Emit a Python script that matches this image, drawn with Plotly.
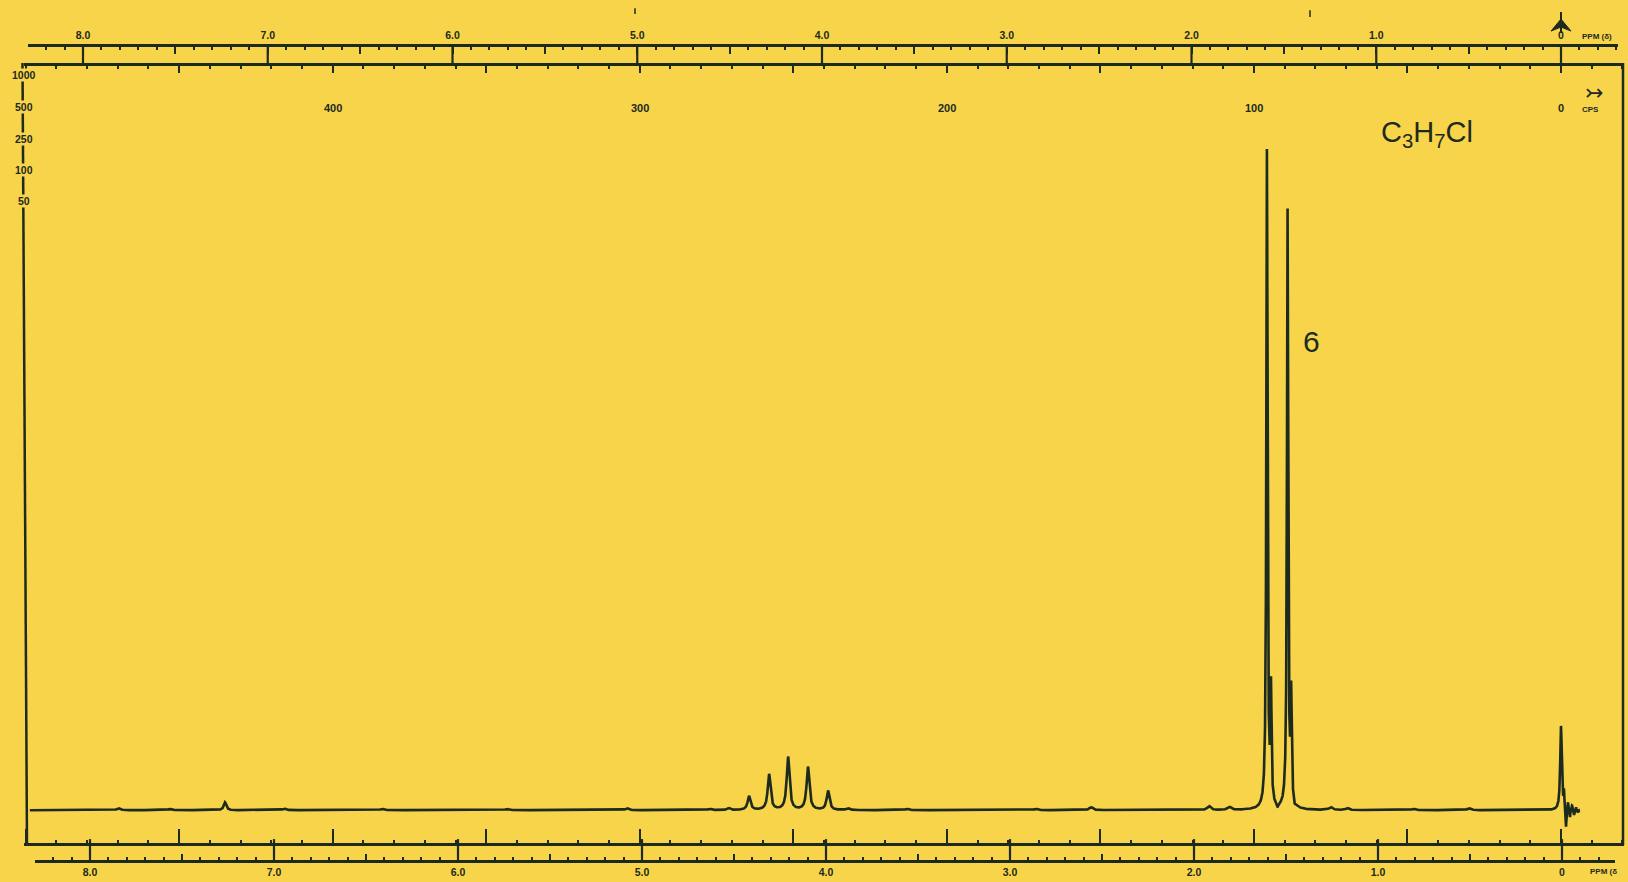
import numpy as np
import plotly.graph_objects as go

# ---------------- data ----------------
# chemical shift in ppm, peak height (relative units, tallest = 100), line width (ppm, FWHM)
doublet_ppm = [1.596, 1.484]
doublet_height = [99.4, 90.2]
doublet_fwhm = [0.0078, 0.0078]

doublet_ring_ppm = [1.574, 1.5385, 1.4645, 1.446]
doublet_ring_height = [17.0, -0.6, 16.0, -0.5]
doublet_ring_fwhm = [0.007, 0.012, 0.007, 0.010]

septet_ppm = [4.516, 4.407, 4.298, 4.195, 4.087, 3.978, 3.870]
septet_height = [0.3, 2.1, 5.4, 8.0, 6.5, 2.9, 0.3]
septet_fwhm = [0.018, 0.018, 0.018, 0.018, 0.018, 0.018, 0.018]

tms_ppm = [0.000, -0.0163, -0.0272, -0.038, -0.049, -0.060, -0.071, -0.082, -0.092]
tms_height = [12.7, 2.3, -3.0, 1.1, -1.2, 0.7, -0.8, 0.4, -0.4]
tms_fwhm = [0.010, 0.004, 0.004, 0.004, 0.004, 0.004, 0.004, 0.004, 0.004]

minor_ppm = [7.251, 7.83, 7.55, 6.93, 6.40, 5.72, 5.07, 4.62, 3.55, 2.85, 2.55, 1.91, 1.80, 1.25, 1.16, 0.80, 0.50]
minor_height = [1.2, 0.3, 0.2, 0.25, 0.2, 0.2, 0.3, 0.2, 0.2, 0.2, 0.45, 0.6, 0.45, 0.45, 0.3, 0.2, 0.3]
minor_fwhm = [0.016, 0.022, 0.022, 0.022, 0.022, 0.022, 0.022, 0.022, 0.022, 0.022, 0.022, 0.022, 0.022, 0.022, 0.022, 0.022, 0.022]

sweep_start_ppm = 8.31
sweep_end_ppm = -0.103

ppm_tick_labels = ["8.0", "7.0", "6.0", "5.0", "4.0", "3.0", "2.0", "1.0", "0"]
cps_label_values = [400, 300, 200, 100, 0]
cps_labels = ["400", "300", "200", "100", "0"]
amplitude_labels = ["1000", "500", "250", "100", "50"]
formula_label = "C<sub>3</sub>H<sub>7</sub>Cl"
integral_label = "6"
spectrometer_mhz = 60.0

# ---------------- spectrum line from the peak list ----------------
centers = np.array(doublet_ppm + doublet_ring_ppm + septet_ppm + tms_ppm + minor_ppm)
heights = np.array(doublet_height + doublet_ring_height + septet_height + tms_height + minor_height)
widths = np.array(doublet_fwhm + doublet_ring_fwhm + septet_fwhm + tms_fwhm + minor_fwhm)

shift = np.linspace(sweep_start_ppm, sweep_end_ppm, 24000)
signal = np.zeros_like(shift)
for c, h, w in zip(centers, heights, widths):
    signal += h / (1.0 + ((shift - c) / (w / 2.0)) ** 2)

# ---------------- layout geometry (pixels of the 1628x882 page) ----------------
W, H = 1628, 882
L, R, T, B = 24, 1624, 45, 864
PW, PH = R - L, B - T
INK = "#1d2a1e"
PAPER = "#f7d44a"


def py(Y):
    return (B - Y) / PH


def pxp(X):
    return (X - L) / PW


PPM_PX = 184.25   # pixels per ppm on the chart
ZERO_X = 1561     # pixel of 0 ppm
UNIT_PX = 6.65    # pixels per intensity unit
BASE_Y = 813      # pixel of the baseline


def ppm_at(X, zero=ZERO_X, scale=PPM_PX):
    return (zero - X) / scale


x_range = [ppm_at(L), ppm_at(R)]
y_range = [(BASE_Y - B) / UNIT_PX, (BASE_Y - T) / UNIT_PX]

fig = go.Figure()
fig.add_trace(go.Scatter(x=shift, y=signal, mode="lines",
                         line=dict(color=INK, width=2.6),
                         showlegend=False, hoverinfo="skip"))
for ax in ["x2", "x3", "x4", "x5"]:
    fig.add_trace(go.Scatter(x=[], y=[], xaxis=ax, yaxis="y", showlegend=False, hoverinfo="skip"))

ppm_major = [k * 0.5 for k in range(17)]
ppm_text = []
for v in ppm_major:
    if abs(v - round(v)) < 1e-9:
        ppm_text.append(ppm_tick_labels[8 - int(round(v))])
    else:
        ppm_text.append(" ")

tick_font = dict(family="Liberation Sans", size=10.5, color=INK, weight="bold")


def ppm_axis(domain, rng, position, side, major_len):
    return dict(domain=domain, range=rng, anchor="free", position=position, side=side,
                showline=True, linecolor=INK, linewidth=2.5,
                ticks="inside", ticklen=major_len, tickwidth=2, tickcolor=INK,
                tickmode="array", tickvals=ppm_major, ticktext=ppm_text,
                tickfont=tick_font, ticklabelstandoff=1,
                minor=dict(ticks="inside", ticklen=3, tickwidth=1.5, tickcolor=INK,
                           tickmode="linear", tick0=0, dtick=0.1, showgrid=False),
                showgrid=False, zeroline=False)


def cps_axis(position, side, major_len):
    return dict(domain=[0, 1], range=[x_range[0] * spectrometer_mhz, x_range[1] * spectrometer_mhz],
                anchor="free", position=position, side=side,
                showline=True, linecolor=INK, linewidth=2.5,
                ticks="inside", ticklen=major_len, tickwidth=2, tickcolor=INK,
                tickmode="linear", tick0=0, dtick=50, showticklabels=False,
                minor=dict(ticks="inside", ticklen=3, tickwidth=1.5, tickcolor=INK,
                           tickmode="linear", tick0=0, dtick=10, showgrid=False),
                showgrid=False, zeroline=False)


# top ppm scale (own calibration of the printed chart)
TOP_ZERO, TOP_SCALE = 1561, 184.75
top_dom = [pxp(28), pxp(1618)]
top_rng = [ppm_at(28, TOP_ZERO, TOP_SCALE), ppm_at(1618, TOP_ZERO, TOP_SCALE)]
# bottom ppm scale
BOT_ZERO, BOT_SCALE = 1562, 184.0
bot_dom = [pxp(35), pxp(1615)]
bot_rng = [ppm_at(35, BOT_ZERO, BOT_SCALE), ppm_at(1615, BOT_ZERO, BOT_SCALE)]

fig.update_layout(
    width=W, height=H,
    margin=dict(l=L, r=W - R, t=T, b=H - B, pad=0),
    paper_bgcolor=PAPER, plot_bgcolor="rgba(0,0,0,0)",
    xaxis=dict(domain=[0, 1], range=x_range, visible=False, anchor="y"),
    yaxis=dict(domain=[0, 1], range=y_range, visible=False),
    xaxis2=ppm_axis(top_dom, top_rng, 1.0, "top", 7),
    xaxis3=cps_axis(py(64), "top", 7),
    xaxis4=cps_axis(py(847), "bottom", 14),
    xaxis5=ppm_axis(bot_dom, bot_rng, 0.0, "bottom", 6),
    showlegend=False,
)

shapes = []
# integer-ppm connectors between the double scale lines
for k in range(9):
    shapes.append(dict(type="line", xref="x2", yref="paper", x0=k, x1=k, y0=py(45), y1=py(66),
                       line=dict(color=INK, width=2.2)))
    shapes.append(dict(type="line", xref="x5", yref="paper", x0=k, x1=k, y0=py(842), y1=py(865),
                       line=dict(color=INK, width=2.2)))
# side frame lines
shapes.append(dict(type="line", xref="paper", yref="paper", x0=pxp(22.5), x1=pxp(27),
                   y0=py(63), y1=py(848), line=dict(color=INK, width=2.5)))
shapes.append(dict(type="line", xref="paper", yref="paper", x0=pxp(1623), x1=pxp(1623),
                   y0=py(63), y1=py(848), line=dict(color=INK, width=2.5)))
# reference arrow over 0 ppm
shapes.append(dict(type="line", xref="x2", yref="paper", x0=0, x1=0, y0=py(12), y1=py(33),
                   line=dict(color=INK, width=2)))
dx = 10 / TOP_SCALE
shapes.append(dict(type="path", xref="x2", yref="paper",
                   path=f"M 0,{py(19)} L {dx},{py(31)} L 0,{py(27)} L {-dx},{py(31)} Z",
                   fillcolor=INK, line=dict(color=INK, width=1)))
# small pen marks above the chart
shapes.append(dict(type="line", xref="paper", yref="paper", x0=pxp(635), x1=pxp(635),
                   y0=py(8), y1=py(14), line=dict(color=INK, width=1.5)))
shapes.append(dict(type="line", xref="paper", yref="paper", x0=pxp(1310), x1=pxp(1310),
                   y0=py(10), y1=py(17), line=dict(color=INK, width=1.5)))
fig.update_layout(shapes=shapes)

ann = []
C = dict(showarrow=False, xanchor="center", yanchor="middle")
# frequency (cps) labels inside the frame
for v, t in zip(cps_label_values, cps_labels):
    ann.append(dict(x=v / spectrometer_mhz, y=py(108), xref="x", yref="paper", text=t,
                    font=dict(family="Liberation Sans", size=11, color=INK, weight="bold"), **C))
ann.append(dict(x=ppm_at(1590), y=py(110), xref="x", yref="paper", text="CPS",
                font=dict(family="Liberation Sans", size=8, color=INK, weight="bold"), **C))
ann.append(dict(x=ppm_at(1594), y=py(93), xref="x", yref="paper", text="↣",
                font=dict(family="DejaVu Sans", size=22, color=INK), **C))
# PPM (δ) captions
ann.append(dict(x=pxp(1597), y=py(36), xref="paper", yref="paper", text="PPM (δ)",
                font=dict(family="Liberation Sans", size=8, color=INK, weight="bold"), **C))
ann.append(dict(x=pxp(1603), y=py(875), xref="paper", yref="paper", text="PPM (δ",
                font=dict(family="Liberation Sans", size=8, color=INK, weight="bold"), **C))
# amplitude scale on the left frame
for t, Y in zip(amplitude_labels, [75, 107, 139, 170, 202]):
    ann.append(dict(x=pxp(23.5), y=py(Y), xref="paper", yref="paper", text=t,
                    bgcolor=PAPER, borderpad=0,
                    font=dict(family="Liberation Sans Narrow, Liberation Sans", size=10.5, color=INK,
                              weight="bold"), **C))
# sample formula and integral
ann.append(dict(x=pxp(1427), y=py(134), xref="paper", yref="paper", text=formula_label,
                font=dict(family="Liberation Sans", size=29, color=INK), **C))
ann.append(dict(x=pxp(1311.5), y=py(343), xref="paper", yref="paper", text=integral_label,
                font=dict(family="Liberation Sans", size=30, color=INK), **C))
fig.update_layout(annotations=ann)

fig.write_html("out.html", config={"displayModeBar": False},
               post_script="document.body.style.margin='0px';")
